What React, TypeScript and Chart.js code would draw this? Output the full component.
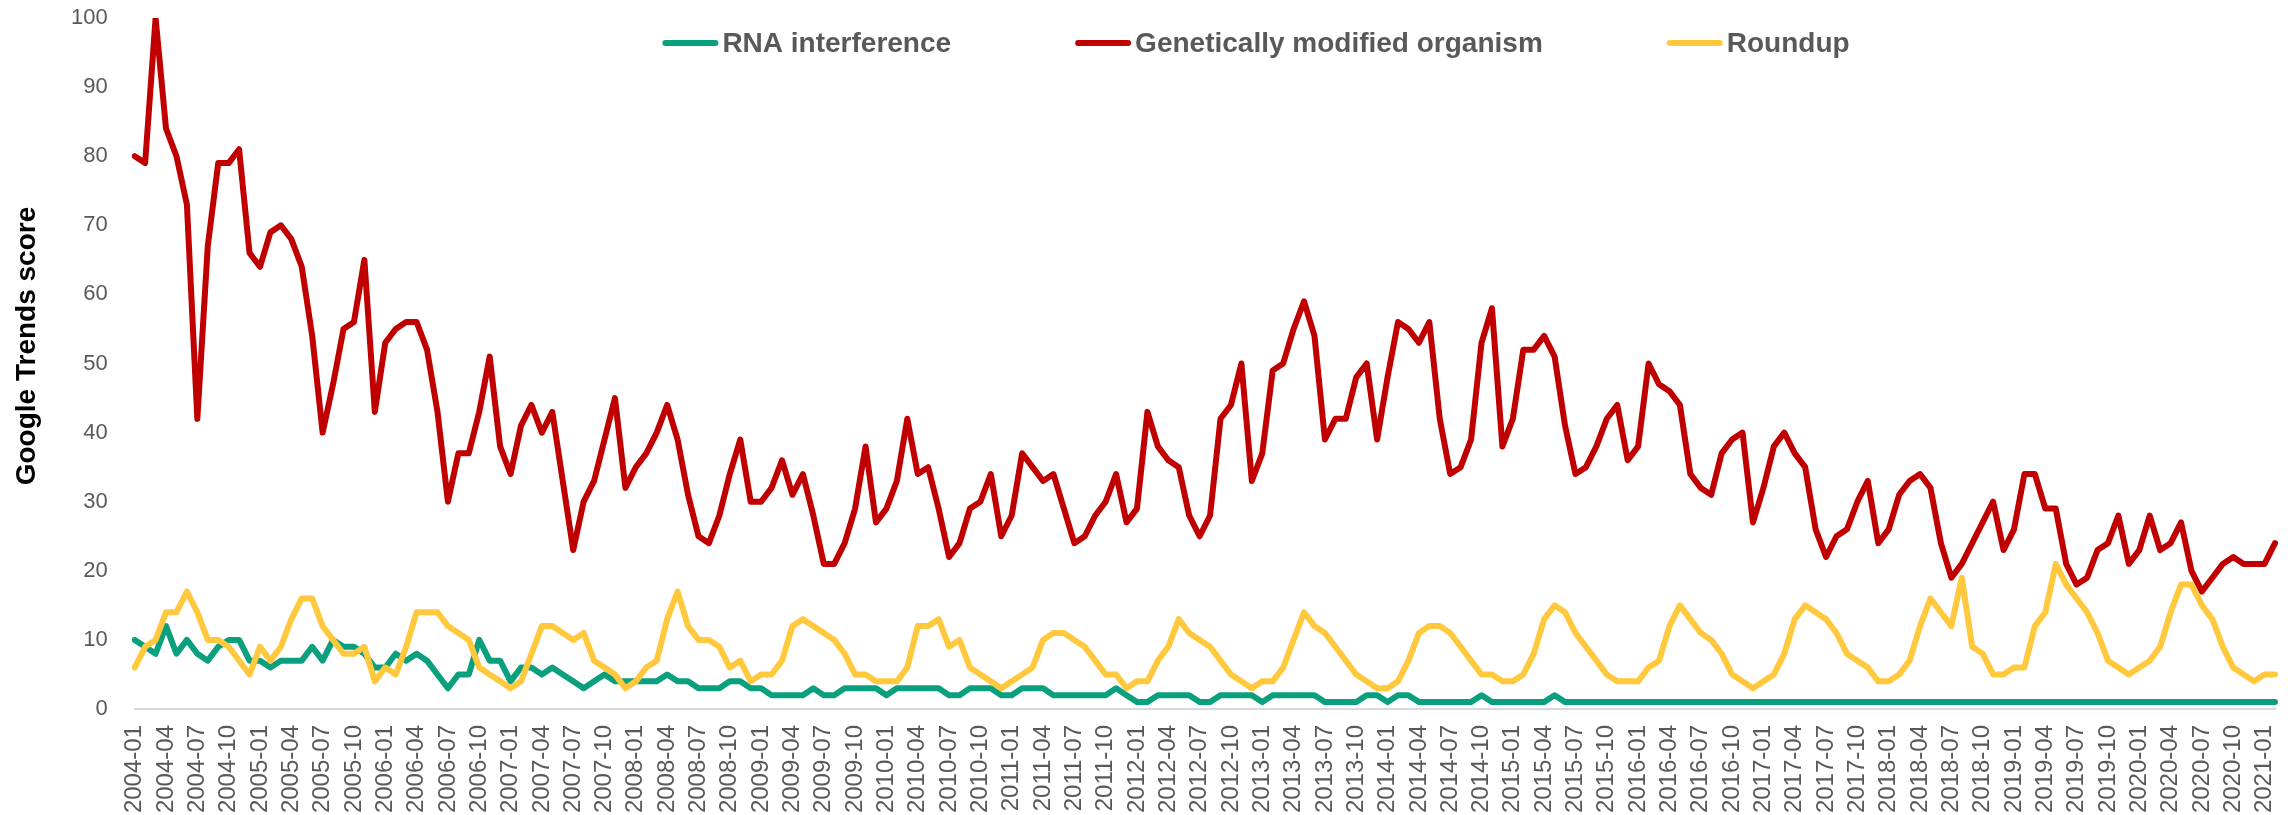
import React, { useEffect, useRef } from "react";
import { Chart, registerables } from "chart.js";

Chart.register(...registerables);

// Monthly categories 2004-01 .. 2021-02
const months: string[] = [];
for (let y = 2004; y <= 2021; y++) {
  for (let m = 1; m <= 12; m++) {
    if (y === 2021 && m > 2) break;
    months.push(`${y}-${String(m).padStart(2, "0")}`);
  }
}

const rnaInterference: number[] = [
  10, 9, 8, 12, 8, 10, 8, 7, 9, 10, 10, 7, 7, 6, 7, 7, 7, 9, 7, 10, 9, 9, 8, 6, 6, 8, 7, 8, 7, 5,
  3, 5, 5, 10, 7, 7, 4, 6, 6, 5, 6, 5, 4, 3, 4, 5, 4, 4, 4, 4, 4, 5, 4, 4, 3, 3, 3, 4, 4,
  3, 3, 2, 2, 2, 2, 3, 2, 2, 3, 3, 3, 3, 2, 3, 3, 3, 3, 3, 2, 2, 3, 3, 3, 2, 2, 3, 3, 3,
  2, 2, 2, 2, 2, 2, 3, 2, 1, 1, 2, 2, 2, 2, 1, 1, 2, 2, 2, 2, 1, 2, 2, 2, 2, 2, 1, 1, 1, 1,
  2, 2, 1, 2, 2, 1, 1, 1, 1, 1, 1, 2, 1, 1, 1, 1, 1, 1, 2,
  1, 1, 1, 1, 1, 1, 1, 1, 1, 1, 1, 1, 1, 1, 1, 1, 1, 1, 1, 1, 1, 1, 1, 1, 1, 1, 1, 1, 1, 1,
  1, 1, 1, 1, 1, 1, 1, 1, 1, 1, 1, 1, 1, 1, 1, 1, 1, 1, 1, 1, 1, 1, 1, 1, 1, 1, 1, 1, 1, 1,
  1, 1, 1, 1, 1, 1, 1, 1, 1,
];

const geneticallyModified: number[] = [
  80, 79, 100, 84, 80, 73, 42, 67, 79, 79, 81, 66, 64, 69, 70, 68, 64, 54, 40, 47, 55, 56, 65, 43, 53, 55, 56, 56, 52,
  43, 30, 37, 37, 43, 51, 38, 34, 41, 44, 40, 43, 33, 23, 30, 33, 39, 45, 32, 35, 37, 40, 44, 39, 31, 25, 24, 28, 34, 39,
  30, 30, 32, 36, 31, 34, 28, 21, 21, 24, 29, 38, 27, 29, 33, 42, 34, 35, 29, 22, 24, 29, 30, 34, 25, 28, 37, 35, 33,
  34, 29, 24, 25, 28, 30, 34, 27, 29, 43, 38, 36, 35, 28, 25, 28, 42, 44, 50, 33, 37, 49, 50, 55, 59, 54, 39, 42, 42,
  48, 50, 39, 48, 56, 55, 53, 56, 42, 34, 35, 39, 53, 58, 38, 42, 52, 52, 54, 51, 41, 34, 35, 38, 42, 44, 36, 38, 50,
  47, 46, 44, 34, 32, 31, 37, 39, 40, 27, 32, 38, 40, 37, 35, 26, 22, 25, 26, 30, 33, 24, 26, 31, 33, 34, 32, 24, 19, 21,
  24, 27, 30, 23, 26, 34, 34, 29, 29, 21, 18, 19, 23, 24, 28, 21, 23, 28, 23, 24, 27, 20, 17, 19, 21, 22, 21, 21, 21, 24,
];

const roundup: number[] = [
  6, 9, 10, 14, 14, 17, 14, 10, 10, 9, 7, 5, 9, 7, 9, 13, 16, 16, 12, 10, 8, 8, 9, 4, 6, 5, 9, 14, 14,
  14, 12, 11, 10, 6, 5, 4, 3, 4, 8, 12, 12, 11, 10, 11, 7, 6, 5, 3, 4, 6, 7, 13, 17, 12, 10, 10, 9, 6, 7,
  4, 5, 5, 7, 12, 13, 12, 11, 10, 8, 5, 5, 4, 4, 4, 6, 12, 12, 13, 9, 10, 6, 5, 4, 3, 4, 5, 6, 10,
  11, 11, 10, 9, 7, 5, 5, 3, 4, 4, 7, 9, 13, 11, 10, 9, 7, 5, 4, 3, 4, 4, 6, 10, 14, 12, 11, 9, 7,
  5, 4, 3, 3, 4, 7, 11, 12, 12, 11, 9, 7, 5, 5, 4, 4, 5, 8, 13, 15, 14, 11, 9, 7, 5, 4, 4, 4, 6,
  7, 12, 15, 13, 11, 10, 8, 5, 4, 3, 4, 5, 8, 13, 15, 14, 13, 11, 8, 7, 6, 4, 4, 5, 7, 12, 16, 14, 12, 19,
  9, 8, 5, 5, 6, 6, 12, 14, 21, 18, 16, 14, 11, 7, 6, 5, 6, 7, 9, 14, 18, 18, 15, 13, 9, 6, 5, 4, 5, 5,
];

const seriesLabels = ["RNA interference", "Genetically modified organism", "Roundup"];
const seriesColors = ["#0AA07E", "#C00000", "#FFC83D"];
const yAxisTitle = "Google Trends score";

const FONT = "'Liberation Sans', Arial, Helvetica, sans-serif";
const TEXT_GRAY = "#595959";

const customLegend = {
  id: "customLegend",
  afterDraw(chart: any) {
    const ctx = chart.ctx as CanvasRenderingContext2D;
    ctx.save();
    ctx.font = `bold 28px ${FONT}`;
    const markerW = 56;
    const gapMarker = 4;
    const gapItem = 124;
    const centerX = 1256;
    const markerY = 43;
    const textBase = 52;
    const items = chart.data.datasets.map((ds: any) => ({ label: ds.label, color: ds.borderColor }));
    const widths = items.map((it: any) => markerW + gapMarker + ctx.measureText(it.label).width);
    const total = widths.reduce((a: number, b: number) => a + b, 0) + gapItem * (items.length - 1);
    let x = centerX - total / 2;
    items.forEach((it: any, i: number) => {
      ctx.strokeStyle = it.color;
      ctx.lineWidth = 6;
      ctx.lineCap = "round";
      ctx.beginPath();
      ctx.moveTo(x + 3, markerY);
      ctx.lineTo(x + markerW - 3, markerY);
      ctx.stroke();
      ctx.fillStyle = TEXT_GRAY;
      ctx.textAlign = "left";
      ctx.textBaseline = "alphabetic";
      ctx.fillText(it.label, x + markerW + gapMarker, textBase);
      x += widths[i] + gapItem;
    });
    ctx.restore();
  },
};

const yTitlePlugin = {
  id: "yTitle",
  afterDraw(chart: any) {
    const ctx = chart.ctx as CanvasRenderingContext2D;
    ctx.save();
    ctx.translate(27, 346);
    ctx.rotate(-Math.PI / 2);
    ctx.font = `bold 28px ${FONT}`;
    ctx.fillStyle = "#000000";
    ctx.textAlign = "center";
    ctx.textBaseline = "middle";
    ctx.fillText(yAxisTitle, 0, 0);
    ctx.restore();
  },
};

export default function App() {
  const canvasRef = useRef<HTMLCanvasElement | null>(null);

  useEffect(() => {
    if (!canvasRef.current) return;
    const values = [rnaInterference, geneticallyModified, roundup];
    const chart = new Chart(canvasRef.current, {
      type: "line",
      data: {
        labels: months,
        datasets: values.map((vals, i) => ({
          label: seriesLabels[i],
          data: vals,
          borderColor: seriesColors[i],
          backgroundColor: seriesColors[i],
          borderWidth: 6,
          pointRadius: 0,
          tension: 0,
          fill: false,
          borderJoinStyle: "round" as const,
          borderCapStyle: "round" as const,
          order: [3, 2, 1][i],
        })),
      },
      options: {
        animation: false,
        responsive: false,
        devicePixelRatio: 1,
        layout: { padding: { top: 18, right: 20, left: 0, bottom: 0 } },
        plugins: {
          legend: { display: false },
          tooltip: { enabled: false },
        },
        scales: {
          x: {
            type: "category",
            offset: false,
            grid: { display: false, drawTicks: true, tickLength: 16 },
            border: { display: true, color: "#D9D9D9", width: 2 },
            ticks: {
              autoSkip: false,
              maxRotation: 90,
              minRotation: 90,
              padding: 0,
              color: TEXT_GRAY,
              font: { size: 24, family: FONT },
              callback: (_v: any, idx: number) => (idx % 3 === 0 ? months[idx] : null),
            },
            afterFit: (s: any) => {
              s.height = 106;
            },
          },
          y: {
            min: 0,
            max: 100,
            grid: { display: false, drawTicks: true, tickLength: 27 },
            border: { display: false },
            ticks: {
              stepSize: 10,
              padding: 0,
              color: TEXT_GRAY,
              font: { size: 22, family: FONT },
            },
            afterFit: (s: any) => {
              s.width = 134.7;
            },
          },
        },
      },
      plugins: [customLegend, yTitlePlugin],
    });
    return () => chart.destroy();
  }, []);

  return (
    <div style={{ position: "absolute", left: 0, top: 0, width: 2295, height: 815, background: "#fff" }}>
      <canvas ref={canvasRef} width={2295} height={815} style={{ width: 2295, height: 815, display: "block" }} />
    </div>
  );
}
